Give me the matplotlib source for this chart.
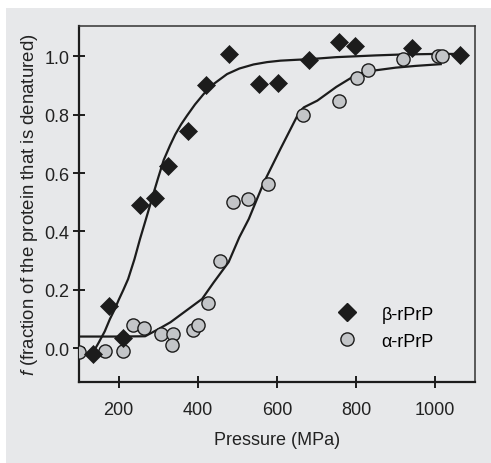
import matplotlib
matplotlib.use("Agg")
import matplotlib.pyplot as plt
from matplotlib.patches import Rectangle

plt.rcParams['font.family'] = ['Liberation Sans', 'DejaVu Sans']
plt.rcParams['mathtext.fontset'] = 'custom'
plt.rcParams['mathtext.it'] = 'Liberation Sans:italic'
plt.rcParams['mathtext.rm'] = 'Liberation Sans'

# beta-rPrP data (diamonds)
beta_p = [135, 176, 211, 253, 291, 325, 375, 420, 478, 555, 602, 682, 757, 797, 942, 1062]
beta_f = [-0.02, 0.145, 0.035, 0.49, 0.515, 0.625, 0.743, 0.90, 1.008, 0.906, 0.908, 0.987, 1.05, 1.036, 1.027, 1.004]

# alpha-rPrP data (circles)
alpha_p = [101, 166, 212, 236, 265, 308, 338, 336, 388, 400, 426, 456, 490, 527, 577, 666, 756, 802, 830, 919, 1008, 1016]
alpha_f = [-0.012, -0.008, -0.008, 0.08, 0.07, 0.05, 0.05, 0.01, 0.062, 0.08, 0.156, 0.30, 0.502, 0.51, 0.564, 0.80, 0.847, 0.925, 0.953, 0.99, 1.0, 1.0]

# fitted curves
beta_fit_p = [131, 150, 165, 178, 190, 200, 212, 224, 240, 254, 267, 279, 288, 300, 314, 330, 343, 358, 373, 393, 415, 440, 474, 505, 541, 575, 609, 650, 681, 750, 850, 913, 1000, 1065]
beta_fit_f = [-0.025, 0.02, 0.058, 0.10, 0.133, 0.165, 0.200, 0.237, 0.305, 0.374, 0.433, 0.488, 0.530, 0.584, 0.645, 0.695, 0.732, 0.767, 0.797, 0.835, 0.871, 0.905, 0.939, 0.958, 0.972, 0.980, 0.985, 0.988, 0.990, 0.997, 1.003, 1.006, 1.008, 1.008]

alpha_fit_p = [100, 200, 267, 300, 331, 370, 411, 440, 478, 505, 529, 567, 609, 656, 668, 702, 750, 803, 850, 900, 950, 1014]
alpha_fit_f = [0.04, 0.04, 0.041, 0.065, 0.089, 0.128, 0.169, 0.225, 0.295, 0.38, 0.443, 0.568, 0.683, 0.808, 0.825, 0.848, 0.895, 0.939, 0.952, 0.961, 0.967, 0.973]

bg = "#e7e8ea"
ink = "#1c1c1c"

fig = plt.figure(figsize=(4.91, 4.64), dpi=100, facecolor="white")
fig.patches.append(Rectangle((6 / 491, 0), 1, 1 - 9 / 464, transform=fig.transFigure,
                             facecolor=bg, edgecolor="none", zorder=-10))
ax = fig.add_axes([0.161, 0.175, 0.806, 0.767])
ax.set_facecolor(bg)

ax.plot(beta_fit_p, beta_fit_f, color=ink, lw=1.6, zorder=2)
ax.plot(alpha_fit_p, alpha_fit_f, color=ink, lw=1.6, zorder=2)
ax.plot(alpha_p, alpha_f, "o", ms=9.5, mfc="#c3c5c8", mec=ink, mew=1.0, zorder=3)
ax.plot(beta_p, beta_f, "D", ms=8.8, mfc=ink, mec=ink, mew=0.5, zorder=4)

ax.set_xlim(100, 1100)
ax.set_ylim(-0.115, 1.104)
ax.set_xticks([200, 400, 600, 800, 1000])
ax.set_yticks([0.0, 0.2, 0.4, 0.6, 0.8, 1.0])
ax.set_yticklabels(["0.0", "0.2", "0.4", "0.6", "0.8", "1.0"])
ax.tick_params(direction="inout", length=8, width=1.4, color=ink, labelsize=13,
               labelcolor="#222222")
ax.tick_params(axis="x", pad=10)
ax.tick_params(axis="y", pad=3)
for side in ["left", "bottom"]:
    ax.spines[side].set_linewidth(1.6)
    ax.spines[side].set_color(ink)
for side in ["top", "right"]:
    ax.spines[side].set_linewidth(1.1)
    ax.spines[side].set_color("#333333")

ax.set_xlabel("Pressure (MPa)", fontsize=13, color="#222222", labelpad=9)
ax.set_ylabel(r"$\it{f}$ (fraction of the protein that is denatured)", fontsize=13.4,
              color="#222222", labelpad=3)

ax.plot([], [], "D", ms=8.8, mfc=ink, mec=ink, label="β-rPrP")
ax.plot([], [], "o", ms=9.5, mfc="#c3c5c8", mec=ink, mew=1.0, label="α-rPrP")
h, l = ax.get_legend_handles_labels()
ax.legend(h[-2:], l[-2:], loc="lower right", bbox_to_anchor=(0.915, 0.07), frameon=False,
          fontsize=13, handletextpad=0.9, labelspacing=0.55, borderaxespad=0)

fig.savefig("out.png", dpi=100, facecolor="white")
